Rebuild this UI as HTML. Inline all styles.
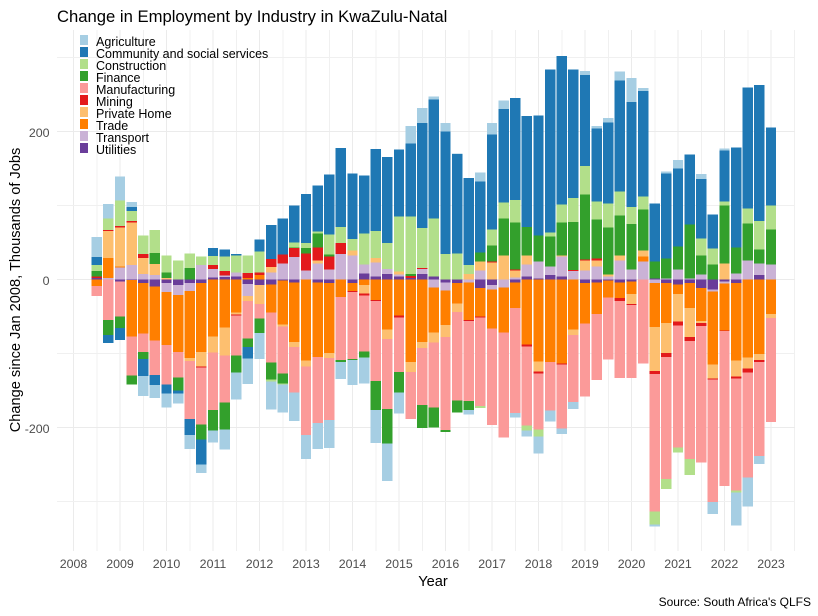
<!DOCTYPE html>
<html lang="en">
<head>
<meta charset="utf-8">
<title>Change in Employment by Industry in KwaZulu-Natal</title>
<style>
html,body{margin:0;padding:0;background:#fff;}
svg{display:block;font-family:"Liberation Sans",Arial,sans-serif;}
.tick{font-size:12.4px;fill:#4d4d4d;}
.leg{font-size:12.5px;fill:#000;}
</style>
</head>
<body>
<svg id="chart" width="818" height="616" viewBox="0 0 818 616" xmlns="http://www.w3.org/2000/svg">
  <rect x="0" y="0" width="818" height="616" fill="#fff"/>
  <g id="grid"></g>
  <g id="bars"></g>
  <g id="xticks"></g>
  <g id="yticks"></g>
  <text x="57" y="22" font-size="16.65" fill="#000">Change in Employment by Industry in KwaZulu-Natal</text>
  <text x="433" y="586" font-size="14.6" fill="#000" text-anchor="middle">Year</text>
  <text transform="translate(20,290) rotate(-90)" font-size="14.6" fill="#000" text-anchor="middle">Change since Jan 2008, Thousands of Jobs</text>
  <text x="811" y="606" font-size="12" fill="#000" text-anchor="end">Source: South Africa's QLFS</text>
  <g shape-rendering="crispEdges">
    <g><rect x="80" y="35" width="8" height="10" fill="#A6CEE3"/><text class="leg" x="96" y="46" shape-rendering="auto">Agriculture</text></g>
    <g><rect x="80" y="47" width="8" height="10" fill="#1F78B4"/><text class="leg" x="96" y="58" shape-rendering="auto">Community and social services</text></g>
    <g><rect x="80" y="59" width="8" height="10" fill="#B2DF8A"/><text class="leg" x="96" y="70" shape-rendering="auto">Construction</text></g>
    <g><rect x="80" y="71" width="8" height="10" fill="#33A02C"/><text class="leg" x="96" y="82" shape-rendering="auto">Finance</text></g>
    <g><rect x="80" y="83" width="8" height="10" fill="#FB9A99"/><text class="leg" x="96" y="94" shape-rendering="auto">Manufacturing</text></g>
    <g><rect x="80" y="95" width="8" height="10" fill="#E31A1C"/><text class="leg" x="96" y="106" shape-rendering="auto">Mining</text></g>
    <g><rect x="80" y="107" width="8" height="10" fill="#FDBF6F"/><text class="leg" x="96" y="118" shape-rendering="auto">Private Home</text></g>
    <g><rect x="80" y="119" width="8" height="10" fill="#FF7F00"/><text class="leg" x="96" y="130" shape-rendering="auto">Trade</text></g>
    <g><rect x="80" y="131" width="8" height="10" fill="#CAB2D6"/><text class="leg" x="96" y="142" shape-rendering="auto">Transport</text></g>
    <g><rect x="80" y="143" width="8" height="10" fill="#6A3D9A"/><text class="leg" x="96" y="154" shape-rendering="auto">Utilities</text></g>
  </g>
</svg>
<script>
const periods = [2008.5,2008.75,2009,2009.25,2009.5,2009.75,2010,2010.25,2010.5,2010.75,
2011,2011.25,2011.5,2011.75,2012,2012.25,2012.5,2012.75,2013,2013.25,
2013.5,2013.75,2014,2014.25,2014.5,2014.75,2015,2015.25,2015.5,2015.75,
2016,2016.25,2016.5,2016.75,2017,2017.25,2017.5,2017.75,2018,2018.25,
2018.5,2018.75,2019,2019.25,2019.5,2019.75,2020,2020.25,2020.5,2020.75,
2021,2021.25,2021.5,2021.75,2022,2022.25,2022.5,2022.75,2023];
const utilities = [2,0,-3,-1,-5,-9.5,-5,-8,-5,-5,2.7,3,4,-6.5,-8,-7,-1.3,-4,0,-4,-5,0,-5,8,4,7,4,1.5,7,4,-4,-5,0,-12,-8,0,-4,4,1.3,5.5,4,0,-5,-4,-1.3,-4,-2.7,0,1.3,-5,-6.7,-5,-12,-13.5,-2.7,-5,0,5.5,0];
const transport = [0,1.5,16,19,7.5,5.5,-12,-13.5,-11,19,11,2,5.5,-16,0,9.5,21.6,30,12,21.6,13.5,34,32.5,12,19,7,2.7,0,7,-11,-11,0,-4,12,-5.5,-11,2.7,16,23,12,27,11,12,17.5,4,25.7,13.5,24,-5,1.3,13.5,1.3,6.7,-2.7,-2.7,8,25.7,16,20];
const trade = [-9,27,1.5,-76,-68,-73,-72,-77,-90.5,-93,-77,-65,-44.6,1.5,5.5,-38,-60,-81,-109.5,-101,-94.6,-24,-11,-8,-28,-67.5,-48.6,-112,-85,-61,-47,-28,-51,-38,-52.7,-61,-35,-88,-111,-112,-113.5,-67.5,-55,-43,-23,-21.6,-17.5,6.7,-59.5,-54,-13.5,-34,-44.6,-98.6,-63.5,-105,-105.5,-101,-47];
const privateHome = [0,36.5,52.7,58,21,15,1.5,0,-4,-20,-21.6,-38,-2.7,-6.7,-25.7,7,-2.7,-6.7,-8,4,-6.7,0,6.7,-11,5.5,-13.5,4,-13.5,-8,-13.5,-16,-11,7,12,23,32.5,9.5,12,-13.5,0,1.3,-8,13.5,8,2.7,6.7,-13.5,8,-59.5,-40.5,-36.5,-39,-2.7,-19,21.6,-21.6,-15,-8,-5.5];
const mining = [2,1.5,1.5,1.5,5.5,0,0,0,0,-1.5,5.5,6,-1.5,7,4,11,12,12,23,17.5,17.5,15,-1.3,-2.7,-1.3,0,-2.7,2.7,1.3,0,0,0,-1.3,-1.3,1.3,0,1.3,-2.7,-2.7,0,-1.3,1.3,1.3,2.7,0,-4,-1.3,0,-4,-5.5,-5.5,-5.5,-4,-1.3,-1.3,-2.7,-5.5,-2.7,0];
const manufacturing = [-13.5,-55,-47,-53,-25.5,-47,-53,-34,-78,-77,-78,-63.5,-54,-51,-19,-67.5,-63.5,-61,-93,-89,-84,-85,-90.5,-76,-108,-94.6,-74,-63.5,-77,-88,-125.7,-120,-108,-120,-131,-142,-142,-107,-76,-65,-86.5,-90.5,-98.6,-89,-84,-104,-98.6,-113.5,-186,-165,-165,-159.5,-184,-166,-209,-151,-142,-127,-140.5];
const finance = [7,-20,-16,-12,-9.5,15,8,-17.5,15,-20,-28,-36.5,-23,-11,-20,-23,-13.5,1.3,7,19,2.7,-2.7,-1.3,-8,-39,-46,-28,2.7,-31,-27,-2.7,-16,-12,12,21.6,50,63.5,39,35,40.5,44.6,65,88,52.7,63.5,54,61,55.4,23,27,31,73,25.7,20,78,35,50,19,47];
const construction = [8,16,35,13.5,25.5,31,23,25.7,20,12,12,20,23,24,28,-2.7,-1.3,6.7,7,2.7,27,21.6,15,42,36.5,35,74,78,54,78,34,35,12,-2.7,21.6,21.6,30,-6.7,-9.5,5.5,24,32.5,38,24,32.5,32.5,23,17.5,-17.5,-13.5,-6.7,-21.6,23,21.6,5.5,-2.7,20,38,32.5];
const community = [11,-11,-16,5.5,-23,-13.5,-12,-4,-21.6,-34,11,9.5,1.5,-16,16,46,48.6,50,66,62,81,107,89,78,111,116,90.5,98.6,142,161,166,134,117.6,96,128,125.7,138,150,162,220,201,174,123,98.6,109.5,150,142,143,78,115,105,94.6,80,46,69,135,163.5,184,105.5];
const agriculture = [27,19,32.5,7,-27,-17.5,-19,-13.5,-19,-11,-16,-27,-36.5,-34,-35,-38,-38,-39,-32,-35,-38,-23,-34,-35,-44.6,-51,-28,24,20,4,11,1.3,-6.7,12,16,12,-5.5,-8,-23,-15,-8,-9.5,5.5,4,5.5,12,32.5,4,-2.7,2.7,12,0,6.7,-16,2.7,-44.6,-39,-11,0];
const yearTicks = [2008,2009,2010,2011,2012,2013,2014,2015,2016,2017,2018,2019,2020,2021,2022,2023];
const yTickLabels = [200,0,-200];
const yMinorValues = [300,100,-100,-300];
const xMinorYears = [2008.5,2009.5,2010.5,2011.5,2012.5,2013.5,2014.5,2015.5,2016.5,2017.5,2018.5,2019.5,2020.5,2021.5,2022.5,2023.5];

const stackOrder = [
  ['utilities', utilities, '#6A3D9A'],
  ['transport', transport, '#CAB2D6'],
  ['trade', trade, '#FF7F00'],
  ['private-home', privateHome, '#FDBF6F'],
  ['mining', mining, '#E31A1C'],
  ['manufacturing', manufacturing, '#FB9A99'],
  ['finance', finance, '#33A02C'],
  ['construction', construction, '#B2DF8A'],
  ['community', community, '#1F78B4'],
  ['agriculture', agriculture, '#A6CEE3']
];

const NS = 'http://www.w3.org/2000/svg';
function xScale(year) { return 73.5 + 46.5 * (year - 2008); }
function yScale(value) { return 279.3 - 0.74 * value; }
const barWidth = 0.225 * 46.5;

const gridGroup = document.getElementById('grid');
function addGridLine(x1, y1, x2, y2, color, name) {
  const line = document.createElementNS(NS, 'line');
  line.setAttribute('x1', x1);
  line.setAttribute('y1', y1);
  line.setAttribute('x2', x2);
  line.setAttribute('y2', y2);
  line.setAttribute('stroke', color);
  line.setAttribute('stroke-width', 1);
  line.setAttribute('shape-rendering', 'crispEdges');
  
  
  gridGroup.appendChild(line);
}
xMinorYears.forEach(function (yr) { addGridLine(xScale(yr), 30, xScale(yr), 551, '#f0f0f0', 'x-minor-gridline'); });
yearTicks.forEach(function (yr) { addGridLine(xScale(yr), 30, xScale(yr), 551, '#ebebeb', 'x-major-gridline'); });
yMinorValues.forEach(function (v) { addGridLine(57, yScale(v), 795, yScale(v), '#f0f0f0', 'y-minor-gridline'); });
yTickLabels.forEach(function (v) { addGridLine(57, yScale(v), 795, yScale(v), '#ebebeb', 'y-major-gridline'); });

const barsGroup = document.getElementById('bars');
periods.forEach(function (period, i) {
  let pos = 0;
  let neg = 0;
  stackOrder.forEach(function (entry) {
    const value = entry[1][i];
    if (!value) { return; }
    const start = value > 0 ? pos : neg;
    const end = start + value;
    if (value > 0) { pos = end; } else { neg = end; }
    const rect = document.createElementNS(NS, 'rect');
    rect.setAttribute('x', xScale(period) - barWidth / 2);
    rect.setAttribute('y', Math.min(yScale(start), yScale(end)));
    rect.setAttribute('width', barWidth);
    rect.setAttribute('height', Math.abs(yScale(end) - yScale(start)));
    rect.setAttribute('fill', entry[2]);
    rect.setAttribute('shape-rendering', 'crispEdges');
    
    
    barsGroup.appendChild(rect);
  });
});

const xTickGroup = document.getElementById('xticks');
yearTicks.forEach(function (yr) {
  const t = document.createElementNS(NS, 'text');
  t.setAttribute('class', 'tick');
  t.setAttribute('x', xScale(yr));
  t.setAttribute('y', 568);
  t.setAttribute('text-anchor', 'middle');
  
  
  t.textContent = yr;
  xTickGroup.appendChild(t);
});

const yTickGroup = document.getElementById('yticks');
yTickLabels.forEach(function (v) {
  const t = document.createElementNS(NS, 'text');
  t.setAttribute('class', 'tick');
  t.setAttribute('x', 49.5);
  t.setAttribute('y', yScale(v) + 5.5);
  t.setAttribute('text-anchor', 'end');
  
  
  t.textContent = v;
  yTickGroup.appendChild(t);
});
</script>
</body>
</html>
